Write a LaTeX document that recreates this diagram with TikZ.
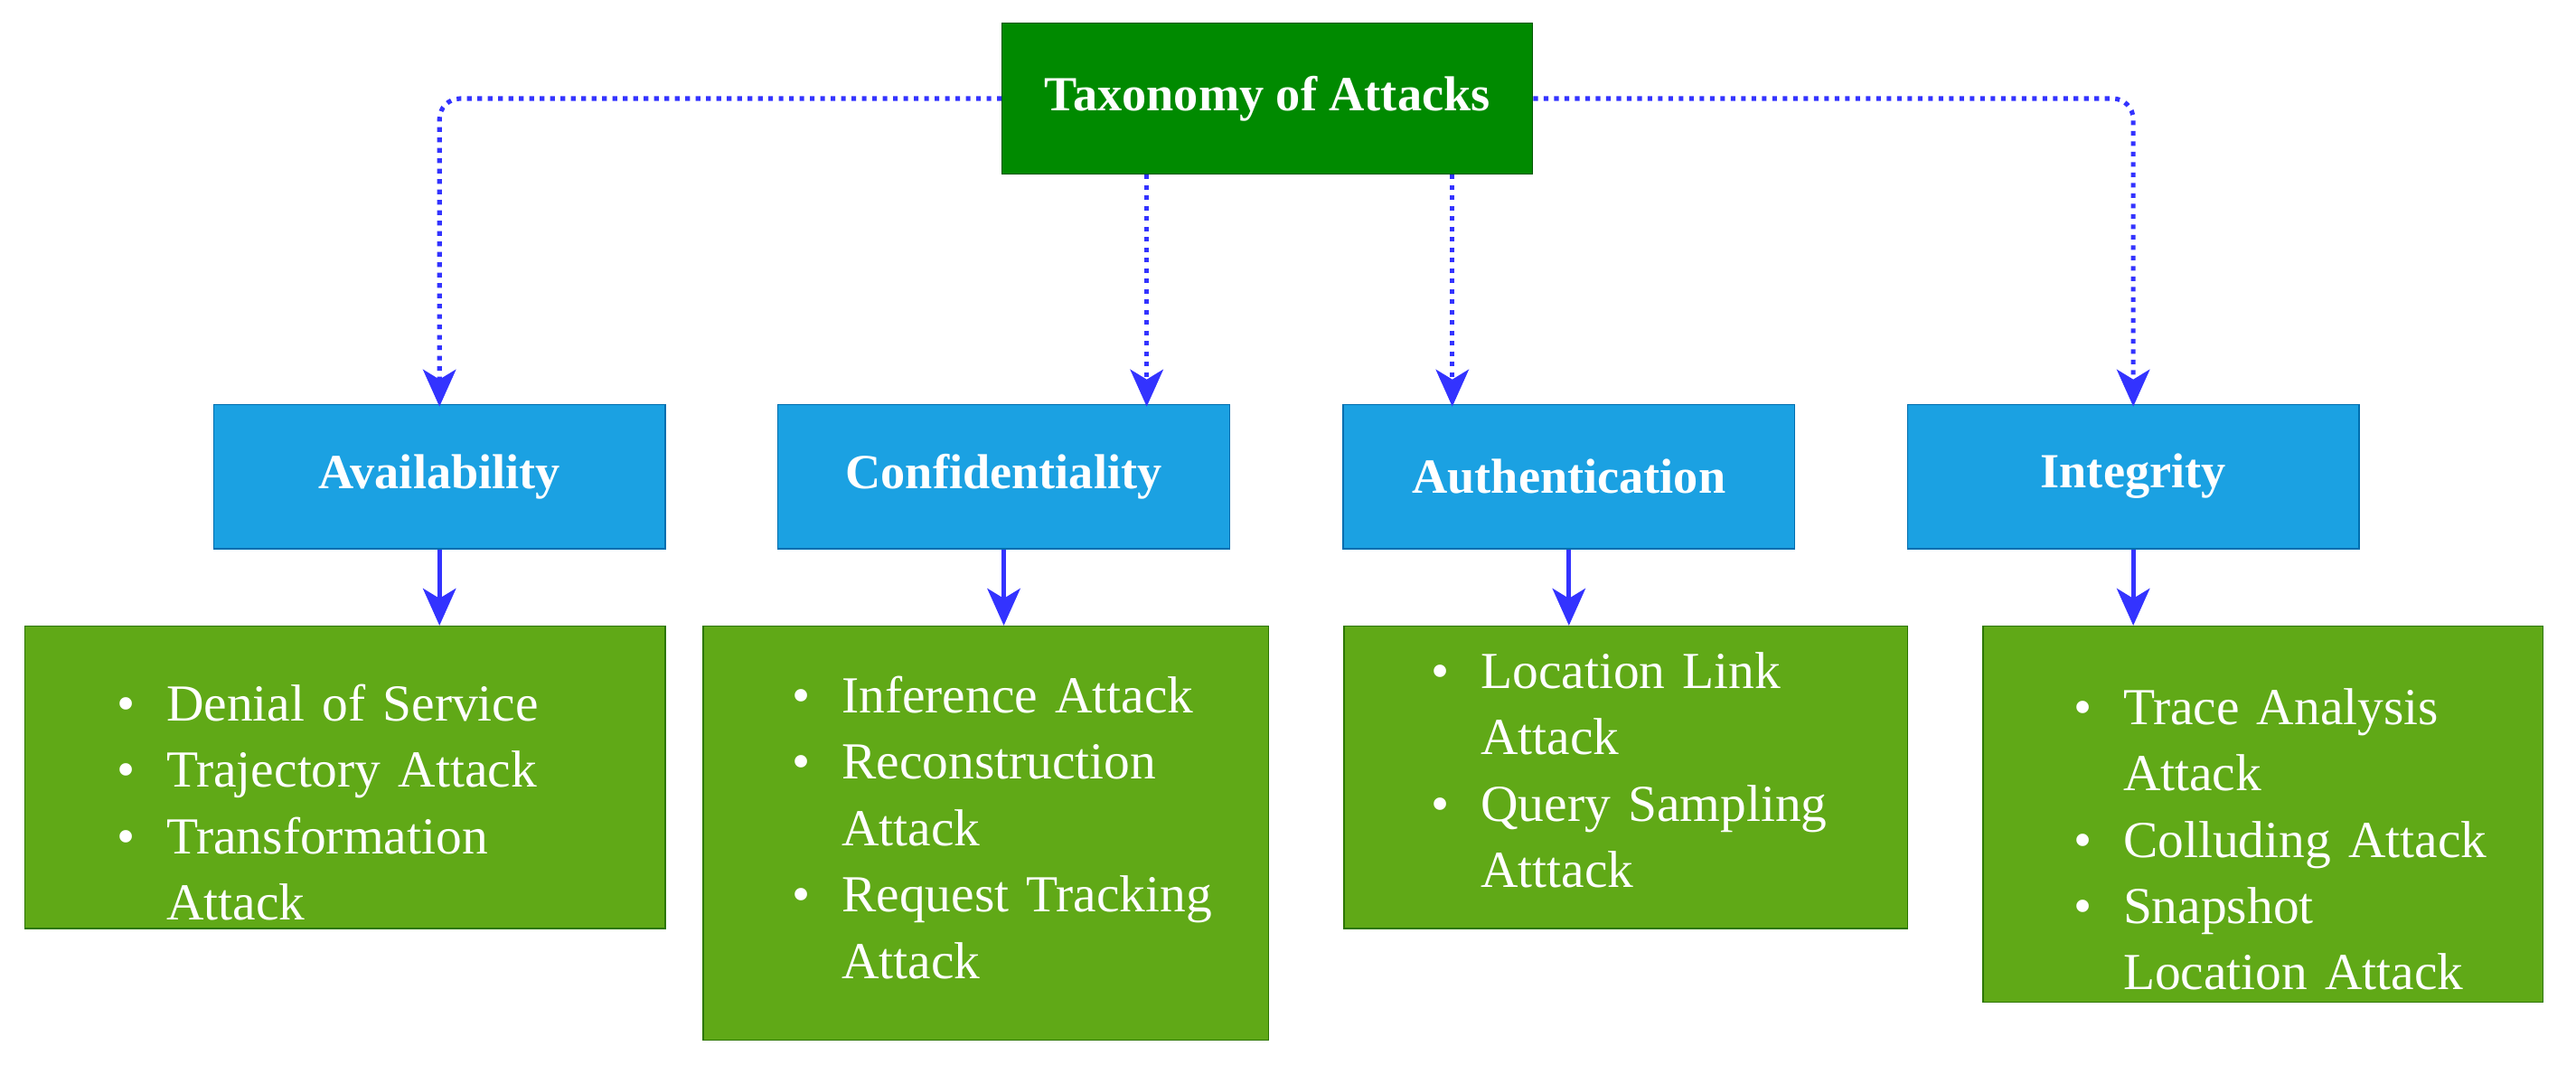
\documentclass[tikz,border=0pt]{standalone}
\usepackage{fontspec}
\setmainfont{Liberation Serif}
\usepackage{enumitem}
\usetikzlibrary{arrows.meta,positioning}
\definecolor{rootgreen}{HTML}{008A00}
\definecolor{rootline}{HTML}{005700}
\definecolor{catblue}{HTML}{1BA1E2}
\definecolor{catline}{HTML}{006EAF}
\definecolor{listgreen}{HTML}{60A917}
\definecolor{listline}{HTML}{2D7600}
\definecolor{arrblue}{HTML}{3333FF}
\newcommand{\attacklist}[1]{%
  \begin{itemize}[leftmargin=0.62cm,labelsep=0.38cm,label=\textbullet,nosep]#1\end{itemize}}

\begin{document}
\begin{tikzpicture}[x=0.02cm,y=-0.02cm,
    rootbox/.style={draw=rootline,fill=rootgreen,text=white,font=\fontsize{17}{20}\selectfont\bfseries,
      minimum width=6.46cm,minimum height=1.84cm},
    catbox/.style={draw=catline,fill=catblue,text=white,font=\fontsize{17}{20}\selectfont\bfseries,
      minimum width=5.5cm,minimum height=1.76cm},
    listbox/.style={draw=listline,fill=listgreen,minimum height=3.68cm},
    listtext/.style={anchor=north west,inner sep=0pt,text=white,align=left,
      font=\fontsize{18}{23}\selectfont},
    dotarrow/.style={draw=arrblue,line width=1.6pt,dotted,rounded corners=0.25cm,
      -{Stealth[length=0.45cm,width=0.4cm,inset=0.12cm]},shorten >=-1pt},
    solidarrow/.style={draw=arrblue,line width=1.6pt,
      -{Stealth[length=0.45cm,width=0.4cm,inset=0.12cm]}}]
  \useasboundingbox (0,0) rectangle (1568,648);
  % root and categories
  \node[rootbox] (tax) at (771.5,60) {Taxonomy of Attacks};
  \node[catbox] (avail) at (267.5,290) {Availability};
  \node[catbox] (conf) at (611,290) {Confidentiality};
  \node[catbox] (auth) at (955,290) {Authentication};
  \node[catbox] (integ) at (1298.5,290) {Integrity};
  % attack boxes
  \node[listbox,minimum width=7.8cm] (gavail) at (210,473) {};
  \node[listbox,minimum width=6.88cm,minimum height=5.04cm] (gconf) at (600,507) {};
  \node[listbox,minimum width=6.86cm] (gauth) at (989.5,473) {};
  \node[listbox,minimum width=6.82cm,minimum height=4.58cm] (ginteg) at (1377.5,495.5) {};
  % lists
  \node[listtext,text width=6.6cm] (lavail) at (70,398) {\attacklist{%
    \item Denial of Service \item Trajectory Attack \item Transformation\newline Attack}};
  \node[listtext,text width=6.2cm] (lconf) at (481,393) {\attacklist{%
    \item Inference Attack \item Reconstruction\newline Attack \item Request Tracking\newline Attack}};
  \node[listtext,text width=6.2cm] (lauth) at (870,378) {\attacklist{%
    \item Location Link\newline Attack \item Query Sampling\newline Atttack}};
  \node[listtext,text width=6.2cm] (linteg) at (1261,400) {\attacklist{%
    \item Trace Analysis\newline Attack \item Colluding Attack \item Snapshot\newline Location Attack}};
  % connectors
  \coordinate (c2) at (698,0);
  \coordinate (c3) at (884,0);
  \draw[dotarrow] (tax.west) -| (avail.north);
  \draw[dotarrow] (tax.south -| c2) -- (conf.north -| c2);
  \draw[dotarrow] (tax.south -| c3) -- (auth.north -| c3);
  \draw[dotarrow] (tax.east) -| (integ.north);
  \draw[solidarrow] (avail.south) -- (avail.south |- gavail.north);
  \draw[solidarrow] (conf.south) -- (conf.south |- gconf.north);
  \draw[solidarrow] (auth.south) -- (auth.south |- gauth.north);
  \draw[solidarrow] (integ.south) -- (integ.south |- ginteg.north);
\end{tikzpicture}
\end{document}
